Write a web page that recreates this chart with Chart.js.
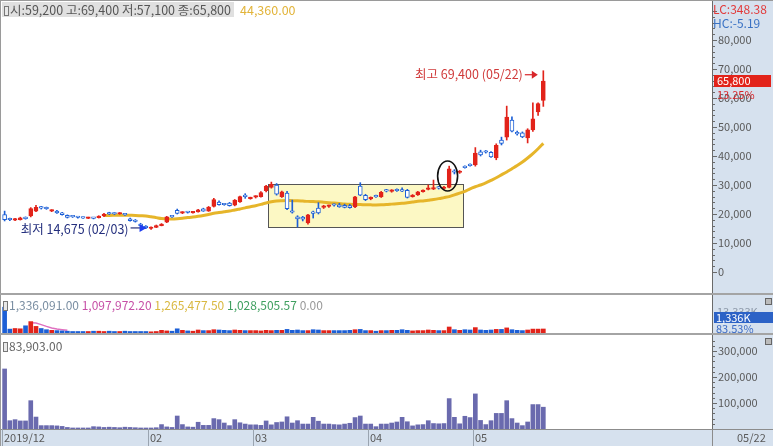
<!DOCTYPE html>
<html>
<head>
<meta charset="utf-8">
<title>chart</title>
<script src="https://cdn.jsdelivr.net/npm/chart.js@4.4.1/dist/chart.umd.min.js"></script>
<style>
  html, body { margin: 0; padding: 0; background: #fff; }
  #wrap { position: relative; width: 773px; height: 446px; overflow: hidden;
          font-family: "Noto Sans CJK KR", "Noto Sans", sans-serif; font-size: 11px; color: #5a5a5a; }
  #wrap canvas { position: absolute; left: 0; }
  .abs { position: absolute; white-space: nowrap; line-height: 1; }
  .icon { display: inline-block; width: 3px; height: 8px; border: 1px solid #777; background: #e8e8e8; margin-right: 1px; vertical-align: -1px; }
  .sq { position: absolute; width: 5px; height: 5px; border: 1px solid #666; background: #bbb; }
</style>
</head>
<body>
<div id="wrap">
  <div class="abs" style="left:712px;top:0;width:61px;height:446px;background:#d6e1ee"></div>
  <canvas id="priceChart" width="773" height="295" style="top:0;width:773px;height:295px"></canvas>
  <canvas id="flowChart" width="773" height="40" style="top:295px;width:773px;height:40px"></canvas>
  <canvas id="volChart" width="773" height="111" style="top:335px;width:773px;height:111px"></canvas>

  <div class="abs" style="left:0;top:0;width:773px;height:1px;background:#9a9a9a"></div>
  <div class="abs" style="left:0;top:0;width:1px;height:446px;background:#9a9a9a"></div>
  <div class="abs" style="left:0;top:293px;width:773px;height:2px;background:#a4a4a4"></div>
  <div class="abs" style="left:0;top:333px;width:773px;height:2px;background:#a4a4a4"></div>

  <div class="abs" id="ohlc" style="left:2px;top:2px;height:15px;line-height:15px;background:#e0e0e0;padding:0 3px 0 2px;font-size:12.5px;color:#555"></div>
  <div class="abs" id="maVal" style="left:240px;top:2px;line-height:15px;font-size:12.5px;color:#e2b43a"></div>
  <div class="abs" style="left:713px;top:3px;font-size:12px;color:#e23a3a">LC:348.38</div>
  <div class="abs" style="left:713px;top:17px;font-size:12px;color:#3a72c4">HC:-5.19</div>

  <div class="abs" style="left:3px;top:298px;font-size:12px;line-height:14px"><span class="icon"></span><span style="color:#7a8ea2">1,336,091.00</span> <span style="color:#c64fa6">1,097,972.20</span> <span style="color:#d9b840">1,265,477.50</span> <span style="color:#3f9f5f">1,028,505.57</span> <span style="color:#999">0.00</span></div>
  <div class="abs" style="left:717px;top:306px;font-size:11px;color:#8a96a6">13,333K</div>
  <div class="abs" style="left:714px;top:312px;width:57px;height:11px;background:#2c62c6;color:#fff;font-size:11px;line-height:11px;padding-left:2px">1,336K</div>
  <div class="abs" style="left:716px;top:323px;font-size:11px;color:#3a6ac4">83.53%</div>
  <div class="sq" style="left:765px;top:298px"></div>

  <div class="abs" id="volHead" style="left:3px;top:339px;font-size:12px;line-height:14px;color:#666"></div>
  <div class="sq" style="left:765px;top:338px"></div>
</div>

<script>
// month markers on the x axis (index of first trading day of each month)
const monthLabels = ['2019/12', '02', '03', '04', '05'];
const monthStart = [0, 28, 48, 70, 90];
const lastDate = '05/22';
const lowIdx = 28, lowDate = '02/03';
const highIdx = 103, highDate = '05/22';

const open = [19800,18200,17900,18000,18800,19300,21000,22200,22000,21000,
  21000,20400,19500,19100,18900,18700,18500,18600,18700,19300,
  20200,20100,20000,19900,18300,17900,16500,15800,15000,15400,
  16000,17200,19100,21300,20300,20700,20400,20700,21800,21000,
  22600,24100,23400,23800,23000,24200,26400,25300,25800,26000,
  28000,29200,30000,26000,27200,21000,19000,18900,16900,20500,
  22000,22300,22600,23200,23200,23000,22900,22400,29600,26400,
  25200,26200,25900,28100,27800,28300,28200,28200,26000,26600,
  27700,28500,28600,29200,28800,29200,34800,34300,36200,36900,
  36900,41400,41500,41300,39300,45500,46500,52400,48200,48000,
  46200,49000,55200,59200];
const high = [21000,18600,18500,18900,19000,22200,23000,22600,22400,21500,
  21300,20600,19700,19400,19200,18900,18900,18800,19400,20200,
  20600,20400,20500,20200,18600,18100,16800,16000,15600,16200,
  16700,19200,19400,21700,20800,20900,20900,21600,22000,22600,
  25400,24500,23600,24000,25000,26200,27000,25800,26300,27700,
  29900,31000,30500,27900,27800,24800,19400,19200,19900,21000,
  23900,23000,23100,23500,23700,23400,23300,26100,30800,26800,
  25900,26500,27800,28500,28400,28700,29000,28500,26700,27800,
  28300,30000,31700,29500,29500,36500,35300,35000,36600,37300,
  42900,42000,41900,41500,44200,46500,57200,53500,48600,48300,
  49400,58300,58300,69400];
const low = [17600,17700,17700,17900,18200,19000,20800,21700,21600,20800,
  20200,19600,18600,18800,18600,18500,18400,18300,18600,19100,
  19800,19800,19900,19500,17500,17200,15900,14900,14675,15300,
  15900,17000,18800,20000,20100,20300,20300,20600,20900,20900,
  22400,23000,23000,22700,22800,24000,25400,25100,25500,25800,
  27600,28900,26500,25700,21500,20300,15500,17600,16500,18600,
  20000,21900,22300,22700,22300,22100,22000,22200,26300,24600,
  24900,25700,25700,27600,27500,27800,27700,25500,25800,26400,
  27500,28300,28400,28600,28500,29000,33800,34000,35800,36500,
  36500,40000,41000,39500,38700,43800,45500,48300,47200,46300,
  44500,48500,54000,57100];
const close = [18000,18000,18300,18700,18400,21900,22300,22000,21800,21200,
  20400,19800,18800,19000,18800,18600,18700,18500,19300,20000,
  20000,20000,20200,19700,17700,17400,16000,15200,15400,16000,
  16500,19000,19000,20200,20500,20500,20600,21400,21000,22400,
  25000,23200,23200,22900,24800,26000,26000,25600,26100,27400,
  29600,30200,26800,27600,21800,20600,18300,18200,19700,20200,
  20400,22700,22900,23000,22400,22300,22200,25900,26500,24900,
  25600,25900,27500,27900,28100,28000,27900,25700,26400,27600,
  28100,28900,29000,28900,29300,35600,34400,34700,36000,36700,
  41000,40400,41300,39700,43700,44300,53400,48600,47600,46600,
  49000,52800,58100,65800];
// 20 day moving average
const ma20 = [null,null,null,null,null,null,null,null,null,null,
  null,null,null,null,null,null,null,null,null,19500,
  19500,19550,19600,19600,19550,19500,19400,19300,19050,18750,
  18450,18300,18300,18400,18550,18750,18950,19200,19500,19850,
  20250,20500,20750,21000,21400,21750,22100,22500,22850,23300,
  23800,24200,24500,24600,24650,24600,24550,24450,24350,24300,
  24200,24050,23900,23750,23600,23450,23350,23300,23250,23200,
  23150,23100,23150,23250,23400,23550,23700,23850,24100,24400,
  24500,24750,25000,25300,25650,26000,26600,27200,27800,28700,
  29400,30000,30700,31600,32500,33500,34500,35600,36700,37900,
  39300,40800,42500,44360];
const volume = [231000,32000,36000,31000,31000,109000,46000,13000,13000,13000,
  12000,10000,6000,4000,4000,4000,4000,9000,8000,6000,
  7000,6000,5000,7000,6000,5000,4000,4000,4000,5000,
  17000,8000,6000,50000,17000,8000,7000,26000,14000,14000,
  40000,36000,23000,13000,36000,24000,19000,16000,16000,14000,
  31000,16000,25000,27000,47000,23000,32000,19000,19000,45000,
  30000,19000,19000,17000,16000,19000,22000,44000,50000,19000,
  19000,9000,19000,19000,23000,27000,45000,28000,12000,16000,
  17000,32000,21000,20000,21000,117000,45000,20000,49000,44000,
  135000,33000,17000,32000,60000,60000,109000,40000,23000,13000,
  27000,94000,94000,83903];
// middle panel, thousands
const flowK = [8600,1300,1500,1400,2400,3800,2200,1500,1100,900,
  800,700,600,500,500,500,500,600,600,500,
  600,500,500,600,500,500,500,500,400,500,
  900,700,600,1400,900,700,600,1000,800,800,
  1100,1000,900,800,1000,900,800,800,800,700,
  900,800,900,900,1200,900,1000,800,800,1100,
  1000,800,800,800,800,800,900,1100,1200,800,
  800,600,800,800,900,900,1100,900,700,800,
  800,1000,900,800,800,2000,1100,900,1100,1000,
  1800,1000,900,1000,1200,1200,1700,1100,900,800,
  1000,1300,1300,1336];
const flowMaK = [null,null,null,null,null,3400,3300,2800,2200,1700,1300,1100,900];

const priceTicks = [0,10000,20000,30000,40000,50000,60000,70000,80000];
const volTicks = [100000,200000,300000];

// annotation placement (data units)
const boxZone = { from: 50.4, to: 87.6, lo: 15500, hi: 30300 };
const circleAt = { idx: 84.7, price: 33100 };

const UP = '#e2231a', DOWN = '#1c5fd6', GOLD = '#e6b52a', AXIS = '#5a5a5a';
const F = function (px) { return px + 'px "Noto Sans CJK KR", "Noto Sans", sans-serif'; };
const fmt = function (v) { return Math.round(v).toLocaleString('en-US'); };
const isUp = close.map(function (c, i) { return c >= open[i]; });

const xAxis = { type: 'linear', min: -0.5, max: 135.25, offset: false, bounds: 'ticks', display: false };
const baseOpts = {
    responsive: false,
    maintainAspectRatio: false,
    animation: false,
    events: [],
    plugins: { legend: { display: false }, tooltip: { enabled: false } }
};

document.getElementById('ohlc').innerHTML = '<span class="icon"></span>시:' + fmt(open[103]) + ' 고:' + fmt(high[103]) + ' 저:' + fmt(low[103]) + ' 종:' + fmt(close[103]);
document.getElementById('maVal').textContent = ma20[103].toLocaleString('en-US', { minimumFractionDigits: 2 });
document.getElementById('volHead').innerHTML = '<span class="icon"></span>' + volume[103].toLocaleString('en-US', { minimumFractionDigits: 2 });

drawPriceChart();
function drawPriceChart() {
    var ctx = document.getElementById('priceChart');

    var decor = {
        id: 'priceDecor',
        beforeDatasetsDraw: function (chart) {
            var c = chart.ctx, x = chart.scales.x, y = chart.scales.y;
            var x0 = Math.round(x.getPixelForValue(boxZone.from)), x1 = Math.round(x.getPixelForValue(boxZone.to));
            var y0 = Math.round(y.getPixelForValue(boxZone.hi)), y1 = Math.round(y.getPixelForValue(boxZone.lo));
            c.save();
            c.fillStyle = '#fcf8c4';
            c.fillRect(x0, y0, x1 - x0, y1 - y0);
            c.strokeStyle = '#555';
            c.lineWidth = 1;
            c.strokeRect(x0 + 0.5, y0 + 0.5, x1 - x0, y1 - y0);
            c.restore();
        },
        afterDatasetsDraw: function (chart) {
            var c = chart.ctx, x = chart.scales.x, y = chart.scales.y;
            c.save();
            // circled candle
            c.strokeStyle = '#111';
            c.lineWidth = 1.6;
            c.beginPath();
            c.ellipse(x.getPixelForValue(circleAt.idx), y.getPixelForValue(circleAt.price), 10, 15, 0, 0, Math.PI * 2);
            c.stroke();

            // lowest
            var lx = x.getPixelForValue(lowIdx) - 4.5, ly = y.getPixelForValue(low[lowIdx]) - 1.5;
            c.strokeStyle = '#27307a';
            c.lineWidth = 1.2;
            c.beginPath(); c.moveTo(lx - 16, ly); c.lineTo(lx - 5, ly); c.stroke();
            c.fillStyle = '#1d3df0';
            c.beginPath(); c.moveTo(lx, ly); c.lineTo(lx - 7, ly - 4); c.lineTo(lx - 7, ly + 4); c.closePath(); c.fill();
            c.font = F(12.5);
            c.fillStyle = '#25307e';
            c.textAlign = 'right';
            c.textBaseline = 'middle';
            c.fillText('최저 ' + fmt(low[lowIdx]) + ' (' + lowDate + ')', lx - 18, ly + 1);

            // highest
            var hx = x.getPixelForValue(highIdx) - 5.5, hy = y.getPixelForValue(high[highIdx]) + 4;
            c.strokeStyle = '#d8262a';
            c.beginPath(); c.moveTo(hx - 13, hy); c.lineTo(hx - 4, hy); c.stroke();
            c.fillStyle = '#d8262a';
            c.beginPath(); c.moveTo(hx, hy); c.lineTo(hx - 6, hy - 4); c.lineTo(hx - 6, hy + 4); c.closePath(); c.fill();
            c.fillStyle = '#d03a3a';
            c.fillText('최고 ' + fmt(high[highIdx]) + ' (' + highDate + ')', hx - 15, hy);
            c.restore();
        },
        afterDraw: function (chart) {
            var c = chart.ctx, y = chart.scales.y;
            var ax = chart.chartArea.right;
            c.save();
            c.strokeStyle = '#6a6a6a';
            c.lineWidth = 1;
            c.beginPath(); c.moveTo(ax + 0.5, 0); c.lineTo(ax + 0.5, 295); c.stroke();
            for (var v = 0; v <= 90000; v += 2000) {
                var ty = Math.round(y.getPixelForValue(v)) + 0.5;
                c.beginPath(); c.moveTo(ax, ty); c.lineTo(ax + (v % 10000 === 0 ? 5 : 3), ty); c.stroke();
            }
            c.font = F(11);
            c.fillStyle = AXIS;
            c.textBaseline = 'middle';
            c.textAlign = 'left';
            priceTicks.forEach(function (t) { c.fillText(fmt(t), ax + 6, y.getPixelForValue(t)); });

            var last = close[close.length - 1], prev = close[close.length - 2];
            var py = y.getPixelForValue(last);
            c.fillStyle = '#e2231a';
            c.fillRect(ax + 2, Math.round(py) - 6, 57, 12);
            c.fillStyle = '#fff';
            c.fillText(fmt(last), ax + 5, py);
            c.fillStyle = '#d8262a';
            c.fillText(((last / prev - 1) * 100).toFixed(2) + '%', ax + 5, py + 14);
            c.restore();
        }
    };

    var bodies = close.map(function (c, i) { return { x: i, y: [open[i], c] }; });
    var wicks = close.map(function (c, i) { return { x: i, y: [low[i], high[i]] }; });
    var maLine = ma20.map(function (v, i) { return { x: i, y: v }; });

    new Chart(ctx, {
        type: 'bar',
        data: {
            datasets: [{
                data: bodies,
                grouped: false,
                barThickness: 4,
                minBarLength: 1.5,
                borderWidth: 1,
                borderSkipped: false,
                backgroundColor: isUp.map(function (u) { return u ? UP : '#ffffff'; }),
                borderColor: isUp.map(function (u) { return u ? UP : DOWN; })
            }, {
                data: wicks,
                grouped: false,
                barThickness: 1,
                borderWidth: 0,
                backgroundColor: isUp.map(function (u) { return u ? UP : DOWN; })
            }, {
                type: 'line',
                data: maLine,
                borderColor: GOLD,
                borderWidth: 3,
                pointRadius: 0,
                tension: 0.3,
                spanGaps: false
            }]
        },
        options: Object.assign({}, baseOpts, {
            layout: { padding: { left: 2, right: 61, top: 2, bottom: 3 } },
            scales: {
                x: xAxis,
                y: { type: 'linear', min: -6900, max: 93100, display: false }
            }
        }),
        plugins: [decor]
    });
}

drawFlowChart();
function drawFlowChart() {
    var ctx = document.getElementById('flowChart');
    var axisLine = {
        id: 'flowAxis',
        afterDraw: function (chart) {
            var c = chart.ctx, ax = chart.chartArea.right;
            c.save();
            c.strokeStyle = '#6a6a6a';
            c.beginPath(); c.moveTo(ax + 0.5, 0); c.lineTo(ax + 0.5, 40); c.stroke();
            c.restore();
        }
    };
    new Chart(ctx, {
        type: 'bar',
        data: {
            datasets: [{
                data: flowK.map(function (v, i) { return { x: i, y: v }; }),
                grouped: false,
                barThickness: 4,
                backgroundColor: isUp.map(function (u) { return u ? UP : DOWN; })
            }, {
                type: 'line',
                data: flowMaK.map(function (v, i) { return { x: i, y: v }; }),
                borderColor: '#e070c0',
                borderWidth: 1.5,
                pointRadius: 0
            }]
        },
        options: Object.assign({}, baseOpts, {
            layout: { padding: { left: 2, right: 61, top: 8, bottom: 2 } },
            scales: {
                x: xAxis,
                y: { type: 'linear', min: 0, max: 10000, display: false }
            }
        }),
        plugins: [axisLine]
    });
}

drawVolumeChart();
function drawVolumeChart() {
    var ctx = document.getElementById('volChart');
    var axes = {
        id: 'volAxes',
        afterDraw: function (chart) {
            var c = chart.ctx, x = chart.scales.x, y = chart.scales.y;
            var ax = chart.chartArea.right, bottom = chart.chartArea.bottom;
            c.save();
            c.strokeStyle = '#6a6a6a';
            c.lineWidth = 1;
            c.beginPath(); c.moveTo(ax + 0.5, 0); c.lineTo(ax + 0.5, bottom); c.stroke();
            for (var v = 20000; v <= 340000; v += 20000) {
                var ty = Math.round(y.getPixelForValue(v)) + 0.5;
                c.beginPath(); c.moveTo(ax, ty); c.lineTo(ax + (v % 100000 === 0 ? 5 : 3), ty); c.stroke();
            }
            c.font = F(11);
            c.fillStyle = AXIS;
            c.textBaseline = 'middle';
            volTicks.forEach(function (t) { c.fillText(fmt(t), ax + 6, y.getPixelForValue(t)); });

            // date strip
            c.fillStyle = '#d6e1ee';
            c.fillRect(0, bottom, 773, 111 - bottom);
            c.strokeStyle = '#8c8c8c';
            c.beginPath(); c.moveTo(0, bottom + 0.5); c.lineTo(773, bottom + 0.5); c.stroke();
            c.beginPath(); c.moveTo(ax + 0.5, bottom); c.lineTo(ax + 0.5, 111); c.stroke();
            c.strokeStyle = '#9aa4b0';
            c.fillStyle = AXIS;
            monthStart.forEach(function (m, k) {
                var px = Math.round(x.getPixelForValue(m - 0.5)) + 0.5;
                c.beginPath(); c.moveTo(px, bottom); c.lineTo(px, 111); c.stroke();
                c.fillText(monthLabels[k], px + 1.5, bottom + 9);
            });
            c.fillText(lastDate, ax + 25, bottom + 9);
            c.restore();
        }
    };
    new Chart(ctx, {
        type: 'bar',
        data: {
            datasets: [{
                data: volume.map(function (v, i) { return { x: i, y: v }; }),
                grouped: false,
                barThickness: 4,
                backgroundColor: '#6a6aae'
            }]
        },
        options: Object.assign({}, baseOpts, {
            layout: { padding: { left: 2, right: 61, top: 2, bottom: 17 } },
            scales: {
                x: xAxis,
                y: { type: 'linear', min: 0, max: 354000, display: false }
            }
        }),
        plugins: [axes]
    });
}
</script>
</body>
</html>
